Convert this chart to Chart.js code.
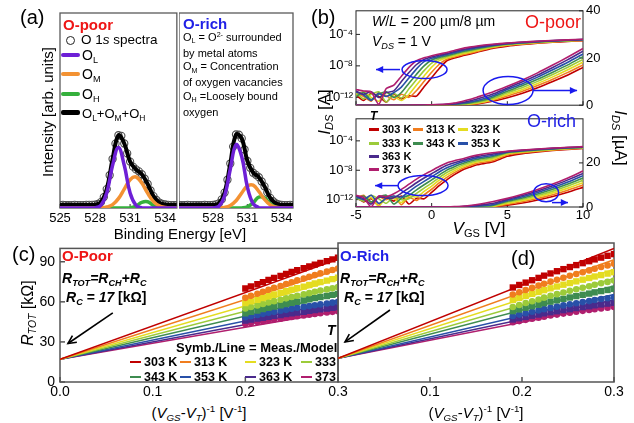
<!DOCTYPE html>
<html>
<head>
<meta charset="utf-8">
<title>O 1s XPS, transfer curves and contact resistance</title>
<script src="https://cdn.jsdelivr.net/npm/chart.js@4.4.1/dist/chart.umd.min.js"></script>
<style>
  body { margin: 0; background: #fff; }
  #fig { position: relative; width: 634px; height: 423px; overflow: hidden; background: #fff;
         font-family: "Liberation Sans", Arial, sans-serif; color: #000; }
  #fig canvas { position: absolute; }
  .t { position: absolute; white-space: nowrap; line-height: 1; z-index: 5; transform: translateY(-50%); }
  .c { transform: translate(-50%, -50%); }
  .r { transform: translate(-50%, -50%) rotate(-90deg); }
  .r90 { transform: translate(-50%, -50%) rotate(90deg); }
  .sb { font-size: 0.65em; position: relative; top: 0.3em; }
  .sp { font-size: 0.65em; position: relative; top: -0.6em; }
  .b { font-weight: bold; }
  .i { font-style: italic; }
  .sw { position: absolute; z-index: 5; }
  #clipc { position: absolute; left: 0; top: 0; width: 337px; height: 423px; overflow: hidden; z-index: 5; }
</style>
</head>
<body>
<div id="fig">
  <!-- (a) -->
  <div class="t" style="left:20px;top:17px;font-size:20px">(a)</div>
  <div class="t b" style="left:63px;top:24px;font-size:15px;color:#ee1515">O-poor</div>
  <div class="sw" style="left:66px;top:36px;width:7px;height:7px;border:1.3px solid #222;border-radius:50%"></div>
  <div class="t" style="left:81px;top:40px;font-size:13.5px">O 1<span class="i">s</span> spectra</div>
  <div class="sw" style="left:61px;top:53px;width:19px;height:4px;background:#6d1fd6;border-radius:2px"></div>
  <div class="t" style="left:82px;top:55px;font-size:14px">O<span class="sb">L</span></div>
  <div class="sw" style="left:61px;top:72px;width:19px;height:4px;background:#f39233;border-radius:2px"></div>
  <div class="t" style="left:82px;top:74px;font-size:14px">O<span class="sb">M</span></div>
  <div class="sw" style="left:61px;top:92px;width:19px;height:4px;background:#35b03c;border-radius:2px"></div>
  <div class="t" style="left:82px;top:94px;font-size:14px">O<span class="sb">H</span></div>
  <div class="sw" style="left:61px;top:110px;width:19px;height:5px;background:#000;border-radius:2px"></div>
  <div class="t" style="left:82px;top:113px;font-size:13px">O<span class="sb">L</span>+O<span class="sb">M</span>+O<span class="sb">H</span></div>
  <div class="t b" style="left:183px;top:23px;font-size:15px;color:#1f1fe6">O-rich</div>
  <div class="t" style="left:183px;top:31px;font-size:11px;line-height:13.7px;transform:none">O<span class="sb">L</span> = O<span class="sp">2-</span> surrounded<br>by metal atoms<br>O<span class="sb">M</span> = Concentration<br>of oxygen vacancies<br>O<span class="sb">H</span> =Loosely bound<br>oxygen</div>
  <div class="t r" style="left:47px;top:112px;font-size:15px">Intensity [arb. units]</div>
  <div class="t c" style="left:180px;top:233px;font-size:15px">Binding Energy [eV]</div>

  <!-- (b) -->
  <div class="t" style="left:311px;top:17px;font-size:20px">(b)</div>
  <div class="t" style="left:372px;top:21px;font-size:14px"><span class="i">W</span>/<span class="i">L</span> = 200 &micro;m/8 &micro;m</div>
  <div class="t" style="left:372px;top:41px;font-size:14px"><span class="i">V<span class="sb">DS</span></span> = 1 V</div>
  <div class="t" style="left:525px;top:22px;font-size:18px;color:#ee1515">O-poor</div>
  <div class="t" style="left:527px;top:121px;font-size:18px;color:#1f1fe6">O-rich</div>
  <div class="t b i" style="left:370px;top:116px;font-size:12px">T</div>
  <div class="t r" style="left:324px;top:112px;font-size:17px"><span class="i">I<span class="sb">DS</span></span> [A]</div>
  <div class="t r90" style="left:620px;top:138px;font-size:17px"><span class="i">I<span class="sb">DS</span></span> [&micro;A]</div>
  <div class="t c" style="left:479px;top:228px;font-size:17px"><span class="i">V</span><span class="sb">GS</span> [V]</div>

  <!-- (c) -->
  <div class="t" style="left:12px;top:254px;font-size:20px">(c)</div>
  <div class="t b" style="left:62px;top:255px;font-size:15px;color:#ee1515">O-Poor</div>
  <div class="t b" style="left:62px;top:278px;font-size:14px"><span class="i">R<span class="sb">TOT</span>=R<span class="sb">CH</span>+R<span class="sb">C</span></span></div>
  <div class="t b" style="left:66px;top:297px;font-size:14px"><span class="i">R<span class="sb">C</span> = 17</span> [k&Omega;]</div>
  <div class="t r" style="left:28px;top:313px;font-size:16px"><span class="i">R<span class="sb">TOT</span></span> [k&Omega;]</div>
  <div class="t c" style="left:199px;top:412px;font-size:15px">(<span class="i">V<span class="sb">GS</span></span>-<span class="i">V<span class="sb">T</span></span>)<span class="sp">-1</span> [V<span class="sp">-1</span>]</div>
  <div id="clipc">
    <div class="t b i" style="left:327px;top:330px;font-size:14px">T</div>
    <div class="t b" style="left:176px;top:347px;font-size:13px">Symb./Line = Meas./Model</div>
  </div>

  <!-- (d) -->
  <div class="t b" style="left:340px;top:255px;font-size:15px;color:#1f1fe6">O-Rich</div>
  <div class="t b" style="left:340px;top:278px;font-size:14px"><span class="i">R<span class="sb">TOT</span>=R<span class="sb">CH</span>+R<span class="sb">C</span></span></div>
  <div class="t b" style="left:344px;top:297px;font-size:14px"><span class="i">R<span class="sb">C</span> = 17</span> [k&Omega;]</div>
  <div class="t" style="left:511px;top:258px;font-size:20px">(d)</div>
  <div class="t c" style="left:476px;top:412px;font-size:15px">(<span class="i">V<span class="sb">GS</span></span>-<span class="i">V<span class="sb">T</span></span>)<span class="sp">-1</span> [V<span class="sp">-1</span>]</div>
</div>

<script>
// ---- (a) O 1s spectra, deconvoluted peaks (arb. units) ----
var bindE = [525, 525.5, 526, 526.5, 527, 527.5, 528, 528.5, 529, 529.5, 530, 530.5, 531, 531.5, 532, 532.5, 533, 533.5, 534, 534.5, 535];
var specE = [525, 525.25, 525.5, 525.75, 526, 526.25, 526.5, 526.75, 527, 527.25, 527.5, 527.75, 528, 528.25, 528.5, 528.75,
             529, 529.25, 529.5, 529.75, 530, 530.25, 530.5, 530.75, 531, 531.25, 531.5, 531.75, 532, 532.25, 532.5, 532.75,
             533, 533.25, 533.5, 533.75, 534, 534.25, 534.5, 534.75, 535];
var eTicksPoor = [525, 528, 531, 534];
var eTicksRich = [528, 531, 534];
var poorOL = [0, 0, 0, 0, 0, 0, 0.1, 1.4, 7.7, 21.9, 31, 21.9, 7.7, 1.4, 0.1, 0, 0, 0, 0, 0, 0];
var poorOM = [0, 0, 0, 0, 0, 0, 0, 0.1, 0.5, 1.7, 4.8, 9.7, 14.5, 15.9, 12.8, 7.6, 3.3, 1.1, 0.3, 0, 0];
var poorOH = [0, 0, 0, 0, 0, 0, 0, 0, 0, 0, 0, 0, 0.1, 1.0, 2.9, 3.2, 1.3, 0.2, 0, 0, 0];
var poorSum = [1.5, 1.5, 1.5, 1.5, 1.5, 1.6, 1.7, 3.0, 9.7, 25.1, 37.3, 33.1, 23.8, 19.8, 17.3, 12.3, 6.1, 2.8, 1.8, 1.5, 1.5];
var poorSpec = [1.5, 1.6, 1.5, 1.4, 1.5, 1.6, 1.5, 1.5, 1.5, 1.6, 1.6, 1.6, 1.7, 2.1, 3.0, 5.6, 9.7, 16.8, 25.1, 33.0, 37.3,
                37.0, 33.1, 28.0, 23.8, 21.2, 19.8, 18.8, 17.3, 15.0, 12.3, 9.0, 6.1, 4.1, 2.8, 2.1, 1.8, 1.6, 1.5, 1.5, 1.5];
var richOL = [0, 0, 0, 0, 0, 0, 0.1, 0.9, 6.1, 20, 32.5, 26.4, 10.7, 2.2, 0.2, 0, 0, 0, 0, 0, 0];
var richOM = [0, 0, 0, 0, 0, 0, 0, 0, 0.3, 1.3, 3.7, 7.7, 11.3, 11.7, 8.5, 4.4, 1.6, 0.4, 0.1, 0, 0];
var richOH = [0, 0, 0, 0, 0, 0, 0, 0, 0, 0, 0, 0.05, 0.6, 2.7, 5.6, 5.2, 2.1, 0.4, 0, 0, 0];
var richSum = [1.5, 1.5, 1.5, 1.5, 1.5, 1.5, 1.6, 2.4, 7.9, 22.8, 37.7, 35.7, 24.1, 18.1, 15.8, 11.1, 5.2, 2.3, 1.6, 1.5, 1.5];
var richSpec = [1.5, 1.4, 1.5, 1.6, 1.5, 1.5, 1.5, 1.4, 1.5, 1.6, 1.5, 1.5, 1.6, 1.9, 2.4, 4.4, 7.9, 14.5, 22.8, 31.5, 37.7,
                37.6, 35.7, 30.0, 24.1, 20.6, 18.1, 17.0, 15.8, 13.6, 11.1, 8.0, 5.2, 3.5, 2.3, 1.8, 1.6, 1.5, 1.5, 1.6, 1.5];

// ---- (b) transfer curves, I_DS in A ----
var temps = ['303 K', '313 K', '323 K', '333 K', '343 K', '353 K', '363 K', '373 K'];
var vgs = [-5, -4.5, -4, -3.5, -3, -2.5, -2, -1.5, -1, -0.5, 0, 0.5, 1, 1.5, 2, 2.5, 3, 4, 5, 6, 7, 8, 9, 10];
var vTicks = [-5, 0, 5, 10];
var logTicks = [1e-12, 1e-8, 1e-4];
var logLabels = ['10\u207B\u00B9\u00B2', '10\u207B\u2078', '10\u207B\u2074'];
var linTicksTop = [0, 20, 40];
var linTicksBottom = [0, 20];
var poor303 = [2e-12, 4e-13, 3.2e-12, 1.3e-12, 2.5e-13, 2.5e-12, 6.3e-13, 1.6e-12, 1.4e-12, 2.2e-11, 3.2e-10, 4.7e-9, 4.5e-8, 1e-7, 1.8e-7, 3e-7, 5.3e-7, 1.65e-6, 3.2e-6, 5.1e-6, 7.4e-6, 1e-5, 1.28e-5, 1.6e-5];
var poor313 = [3.2e-12, 1.3e-12, 3.2e-13, 4e-12, 1.6e-12, 5e-13, 2.5e-12, 1e-12, 7.4e-12, 1.1e-10, 1.55e-9, 1.6e-8, 7e-8, 1.37e-7, 2.5e-7, 4e-7, 6.9e-7, 1.96e-6, 3.89e-6, 5.9e-6, 8.3e-6, 1.1e-5, 1.39e-5, 1.71e-5];
var poor323 = [1.6e-12, 5e-12, 1e-12, 3.2e-13, 4e-12, 1.3e-12, 4e-13, 2.3e-12, 3.6e-11, 5.1e-10, 6.8e-9, 4.6e-8, 1e-7, 1.87e-7, 3.4e-7, 5.4e-7, 9e-7, 2.33e-6, 4.57e-6, 6.7e-6, 9.2e-6, 1.2e-5, 1.5e-5, 1.83e-5];
var poor333 = [4e-12, 6.3e-13, 2.5e-12, 5e-12, 2.5e-13, 3.2e-12, 8e-13, 1.2e-11, 1.8e-10, 2.5e-9, 2.3e-8, 7.9e-8, 1.4e-7, 2.6e-7, 4.6e-7, 7.3e-7, 1.18e-6, 2.77e-6, 5.26e-6, 7.5e-6, 1.01e-5, 1.3e-5, 1.61e-5, 1.94e-5];
var poor343 = [1.3e-12, 4e-12, 5e-13, 2.5e-12, 5e-12, 1e-12, 4.1e-12, 6.2e-11, 8.7e-10, 1e-8, 5.5e-8, 1.2e-7, 2e-7, 3.5e-7, 6.3e-7, 9.9e-7, 1.53e-6, 3.29e-6, 5.94e-6, 8.3e-6, 1.1e-5, 1.4e-5, 1.71e-5, 2.06e-5];
var poor353 = [5e-12, 2e-12, 4e-13, 3.2e-12, 1.3e-12, 4e-12, 2e-11, 2.9e-10, 4.1e-9, 3.4e-8, 9.3e-8, 1.7e-7, 2.8e-7, 4.8e-7, 8.6e-7, 1.33e-6, 2e-6, 3.9e-6, 6.63e-6, 9.1e-6, 1.19e-5, 1.5e-5, 1.82e-5, 2.17e-5];
var poor363 = [6.3e-12, 2.5e-12, 5e-12, 1e-12, 4e-12, 6.6e-12, 1e-10, 1.4e-9, 1.5e-8, 6.5e-8, 1.35e-7, 2.4e-7, 3.6e-7, 6.6e-7, 1.17e-6, 1.78e-6, 2.6e-6, 4.64e-6, 7.31e-6, 9.9e-6, 1.28e-5, 1.6e-5, 1.93e-5, 2.29e-5];
var poor373 = [1e-11, 6.3e-12, 5e-12, 1.3e-13, 1.3e-11, 3.5e-11, 4.9e-10, 6.5e-9, 4.5e-8, 1.07e-7, 1.9e-7, 3.2e-7, 5e-7, 9e-7, 1.6e-6, 2.4e-6, 3.4e-6, 5.5e-6, 8e-6, 1.07e-5, 1.37e-5, 1.7e-5, 2.04e-5, 2.4e-5];
var rich303 = [2.5e-12, 5e-13, 1.3e-12, 1.6e-13, 2e-12, 6.3e-13, 3.2e-12, 2.5e-13, 1.6e-12, 1.3e-12, 1e-11, 7.9e-11, 5e-10, 2.5e-9, 1e-8, 2.5e-8, 5.6e-8, 1.3e-7, 8e-7, 1.85e-6, 3.2e-6, 4.8e-6, 6.7e-6, 8.9e-6];
var rich313 = [1.6e-12, 4e-12, 4e-13, 2.5e-12, 1e-12, 3.2e-12, 2e-13, 2e-12, 8e-13, 4.6e-12, 2.6e-11, 1.9e-10, 1.07e-9, 4.7e-9, 1.66e-8, 4.1e-8, 8.7e-8, 1.95e-7, 1.24e-6, 2.41e-6, 3.88e-6, 5.6e-6, 7.63e-6, 9.96e-6];
var rich323 = [3.2e-12, 8e-13, 2e-12, 1.3e-13, 2.5e-12, 1.3e-12, 4e-13, 3.2e-12, 2.3e-12, 1.3e-11, 6.9e-11, 4.4e-10, 2.3e-9, 8.7e-9, 2.75e-8, 6.5e-8, 1.32e-7, 2.95e-7, 1.69e-6, 2.97e-6, 4.56e-6, 6.4e-6, 8.56e-6, 1.1e-5];
var rich333 = [2e-12, 6.3e-13, 4e-12, 1.3e-12, 3.2e-13, 2.5e-12, 1e-12, 1.3e-12, 7.2e-12, 3.7e-11, 1.8e-10, 1.02e-9, 4.9e-9, 1.6e-8, 4.6e-8, 1.05e-7, 2e-7, 4.5e-7, 2.13e-6, 3.53e-6, 5.24e-6, 7.2e-6, 9.49e-6, 1.21e-5];
var rich343 = [1.3e-12, 3.2e-12, 5e-13, 2e-12, 4e-12, 2.5e-13, 1.6e-12, 4e-12, 2.2e-11, 1.07e-10, 4.8e-10, 2.4e-9, 1.05e-8, 3e-8, 7.6e-8, 1.66e-7, 3.2e-7, 6.8e-7, 2.57e-6, 4.1e-6, 5.92e-6, 8e-6, 1.04e-5, 1.31e-5];
var rich353 = [2.5e-12, 1e-12, 4e-12, 3.2e-13, 1.6e-12, 3.2e-12, 2.3e-12, 1.26e-11, 6.8e-11, 3.1e-10, 1.3e-9, 5.8e-9, 2.2e-8, 5.8e-8, 1.3e-7, 2.7e-7, 4.8e-7, 1.02e-6, 3.01e-6, 4.66e-6, 6.6e-6, 8.8e-6, 1.13e-5, 1.42e-5];
var rich363 = [3.2e-12, 1.3e-12, 2.5e-13, 2.5e-12, 1.6e-12, 1.8e-12, 7.6e-12, 4e-11, 2e-10, 8.7e-10, 3.4e-9, 1.35e-8, 4.7e-8, 1.07e-7, 2.1e-7, 4.4e-7, 7.4e-7, 1.55e-6, 3.46e-6, 5.22e-6, 7.28e-6, 9.6e-6, 1.23e-5, 1.52e-5];
var rich373 = [4e-12, 2e-12, 1e-13, 3.2e-12, 2.5e-12, 6.3e-12, 2.5e-11, 1.26e-10, 6.3e-10, 2.5e-9, 8.9e-9, 3.2e-8, 1e-7, 2e-7, 3.5e-7, 6.9e-7, 1.15e-6, 2.35e-6, 3.9e-6, 5.78e-6, 7.96e-6, 1.04e-5, 1.32e-5, 1.63e-5];

// ---- (c)/(d) R_TOT vs (V_GS-V_T)^-1, kOhm ----
var rc = 17;
var rTicks = [0, 30, 60, 90];
var cXTicks = [0, 0.1, 0.2, 0.3];
var dXTicks = [0.1, 0.2, 0.3];
var cInvV = [0.2, 0.206, 0.213, 0.219, 0.225, 0.231, 0.238, 0.244, 0.25, 0.256, 0.263, 0.269, 0.275, 0.281, 0.288, 0.294, 0.3];
var dInvV = [0.19, 0.197, 0.204, 0.211, 0.218, 0.224, 0.231, 0.238, 0.245, 0.252, 0.259, 0.266, 0.273, 0.279, 0.286, 0.293, 0.3];
var cMeas303 = [70, 71.6, 73.2, 74.8, 76.4, 77.9, 79.4, 80.9, 82.3, 83.7, 85.1, 86.5, 87.9, 89.2, 90.5, 91.8, 93];
var cMeas313 = [63, 64.5, 66.1, 67.6, 69, 70.5, 71.9, 73.3, 74.7, 76.1, 77.4, 78.7, 80, 81.3, 82.6, 83.8, 85];
var cMeas323 = [59, 60.3, 61.6, 62.9, 64.2, 65.5, 66.7, 67.9, 69.1, 70.3, 71.4, 72.6, 73.7, 74.8, 75.9, 77, 78];
var cMeas333 = [55, 56.1, 57.3, 58.4, 59.5, 60.5, 61.6, 62.6, 63.6, 64.6, 65.6, 66.5, 67.5, 68.4, 69.3, 70.1, 71];
var cMeas343 = [51.5, 52.5, 53.5, 54.5, 55.5, 56.5, 57.4, 58.3, 59.3, 60.1, 61, 61.9, 62.8, 63.6, 64.4, 65.2, 66];
var cMeas353 = [48.5, 49.3, 50.2, 51, 51.8, 52.5, 53.3, 54, 54.8, 55.5, 56.2, 56.8, 57.5, 58.1, 58.8, 59.4, 60];
var cMeas363 = [46, 46.7, 47.4, 48.1, 48.8, 49.5, 50.1, 50.8, 51.4, 52, 52.6, 53.2, 53.8, 54.4, 54.9, 55.5, 56];
var cMeas373 = [43.5, 44.2, 44.9, 45.5, 46.2, 46.8, 47.4, 48.1, 48.7, 49.2, 49.8, 50.4, 50.9, 51.5, 52, 52.5, 53];
var cModelEnd = [92, 84, 77, 71, 65.5, 60, 56, 53];
var dMeas303 = [68, 69.8, 71.5, 73.2, 74.9, 76.5, 78.1, 79.7, 81.2, 82.7, 84.1, 85.5, 86.9, 88.2, 89.5, 90.8, 92];
var dMeas313 = [63, 64.6, 66.2, 67.7, 69.3, 70.7, 72.2, 73.6, 75, 76.4, 77.7, 79, 80.3, 81.5, 82.7, 83.9, 85];
var dMeas323 = [59, 60.5, 61.9, 63.4, 64.8, 66.1, 67.4, 68.7, 70, 71.2, 72.4, 73.6, 74.8, 75.9, 76.9, 78, 79];
var dMeas333 = [54, 55.4, 56.8, 58.1, 59.4, 60.7, 62, 63.2, 64.4, 65.6, 66.7, 67.8, 68.9, 70, 71, 72, 73];
var dMeas343 = [51, 52.2, 53.4, 54.5, 55.6, 56.7, 57.8, 58.8, 59.8, 60.8, 61.8, 62.7, 63.6, 64.5, 65.4, 66.2, 67];
var dMeas353 = [47.5, 48.5, 49.5, 50.5, 51.5, 52.4, 53.3, 54.2, 55.1, 55.9, 56.7, 57.5, 58.2, 59, 59.7, 60.3, 61];
var dMeas363 = [45, 45.9, 46.8, 47.7, 48.5, 49.4, 50.2, 50.9, 51.7, 52.4, 53.2, 53.9, 54.5, 55.2, 55.8, 56.4, 57];
var dMeas373 = [43, 43.8, 44.7, 45.5, 46.3, 47, 47.8, 48.5, 49.2, 49.9, 50.5, 51.2, 51.8, 52.4, 52.9, 53.5, 54];
var dModelEnd = [96, 88, 81, 74.5, 69, 63, 59, 56];

var tColors = ['#c00000', '#f07d1e', '#e4dc20', '#9ccb3a', '#3e8c50', '#2850a8', '#4a2a8c', '#b01e6e'];
var fig = document.getElementById('fig');

Chart.defaults.font.family = '"Liberation Sans", Arial, sans-serif';
Chart.defaults.color = '#000';

function pts(xs, ys, k) {
    return xs.map(function(x, i){ return {x: x, y: ys[i] * (k || 1)}; });
}
function fixW(px) { return function(s){ s.width = px; }; }
function fixH(px) { return function(s){ s.height = px; }; }
function setTicks(list) { return function(s){ s.ticks = list.map(function(v){ return {value: v}; }); }; }

function makeCanvas(left, top, w, h) {
    var c = document.createElement('canvas');
    c.width = w; c.height = h;
    c.style.left = left + 'px'; c.style.top = top + 'px';
    c.style.width = w + 'px'; c.style.height = h + 'px';
    fig.appendChild(c);
    return c;
}
function addText(parent, left, cy, html, cls, size) {
    var d = document.createElement('div');
    d.className = 't ' + (cls || '');
    d.style.left = left + 'px'; d.style.top = cy + 'px'; d.style.fontSize = size + 'px';
    d.innerHTML = html;
    parent.appendChild(d);
}
function addSwatch(parent, left, top, w, h, col) {
    var d = document.createElement('div');
    d.className = 'sw';
    d.style.cssText = 'left:' + left + 'px;top:' + top + 'px;width:' + w + 'px;height:' + h + 'px;background:' + col;
    parent.appendChild(d);
}

// frame round the plot area plus inward tick marks
var framePlugin = {
    id: 'frame',
    beforeDatasetsDraw: function(chart, args, opt) {
        var a = chart.chartArea, ctx = chart.ctx, len = opt.tick || 4;
        ctx.save();
        ctx.strokeStyle = opt.color; ctx.lineWidth = opt.width;
        ctx.strokeRect(a.left, a.top, a.right - a.left, a.bottom - a.top);
        (opt.sides || []).forEach(function(sd){
            var s = chart.scales[sd.id];
            s.ticks.forEach(function(t){
                var p = s.getPixelForValue(t.value);
                ctx.beginPath();
                if (sd.pos == 'bottom') { ctx.moveTo(p, a.bottom); ctx.lineTo(p, a.bottom - len); }
                if (sd.pos == 'left') { ctx.moveTo(a.left, p); ctx.lineTo(a.left + len, p); }
                if (sd.pos == 'right') { ctx.moveTo(a.right, p); ctx.lineTo(a.right - len, p); }
                ctx.stroke();
            });
        });
        ctx.restore();
    }
};

// ellipses and arrows placed in data coordinates
var marksPlugin = {
    id: 'marks',
    afterDatasetsDraw: function(chart, args, opt) {
        var ctx = chart.ctx, xs = chart.scales.x;
        ctx.save();
        ctx.strokeStyle = opt.color; ctx.fillStyle = opt.color; ctx.lineWidth = opt.width;
        (opt.items || []).forEach(function(m){
            var ys = chart.scales[m.axis || 'y'];
            if (m.type == 'ellipse') {
                ctx.beginPath();
                ctx.ellipse(xs.getPixelForValue(m.x), ys.getPixelForValue(m.y), m.rx, m.ry, 0, 0, 2 * Math.PI);
                ctx.stroke();
                return;
            }
            var x1 = xs.getPixelForValue(m.x1), y1 = ys.getPixelForValue(m.y1);
            var x2 = xs.getPixelForValue(m.x2), y2 = ys.getPixelForValue(m.y2);
            var ang = Math.atan2(y2 - y1, x2 - x1), h = opt.head;
            ctx.beginPath(); ctx.moveTo(x1, y1); ctx.lineTo(x2, y2); ctx.stroke();
            ctx.beginPath();
            ctx.moveTo(x2 - h * Math.cos(ang - 0.45), y2 - h * Math.sin(ang - 0.45));
            ctx.lineTo(x2, y2);
            ctx.lineTo(x2 - h * Math.cos(ang + 0.45), y2 - h * Math.sin(ang + 0.45));
            if (opt.open) ctx.stroke(); else { ctx.closePath(); ctx.fill(); }
        });
        ctx.restore();
    }
};

function baseOpts(pad) {
    return {
        responsive: false, animation: false, events: [],
        layout: { autoPadding: false, padding: pad },
        plugins: { legend: {display: false}, tooltip: {enabled: false} },
        scales: {}
    };
}
var noGrid = {display: false, drawTicks: false};
var noBorder = {display: false};

// ---- (a) ----
function xpsChart(left, w, padR, yW, ticks, ol, om, oh, sum, spec) {
    var o = baseOpts({top: 13, right: padR, left: 0, bottom: 0});
    o.scales.x = { type: 'linear', min: 525, max: 535, afterBuildTicks: setTicks(ticks), afterFit: fixH(24),
        grid: noGrid, border: noBorder,
        ticks: {font: {size: 13}, padding: 3, maxRotation: 0, autoSkip: false, callback: function(v){ return String(v); }} };
    o.scales.y = { type: 'linear', min: 0, max: 100, display: yW > 0, afterFit: fixW(yW),
        grid: noGrid, border: noBorder, ticks: {display: false} };
    o.plugins.frame = {color: '#5a5a5a', width: 1.3, tick: 4, sides: [{id: 'x', pos: 'bottom'}]};
    function line(ys, col, bw, ord) {
        return {data: pts(bindE, ys), showLine: true, borderColor: col, borderWidth: bw, pointRadius: 0,
                tension: 0.4, order: ord};
    }
    new Chart(makeCanvas(left, 0, w, 232), {
        type: 'scatter',
        data: { datasets: [
            line(ol, '#6d1fd6', 3.5, 1),
            line(om, '#f39233', 3.5, 2),
            line(oh, '#35b03c', 3.5, 3),
            line(sum, '#000', 4, 4),
            {data: pts(specE, spec), showLine: false, pointRadius: 3.6, pointBorderWidth: 1.1, pointBorderColor: '#4a4a4a',
             pointBackgroundColor: 'rgba(255,255,255,0)', order: 5}
        ]},
        options: o,
        plugins: [framePlugin]
    });
}
xpsChart(0, 179, 0, 60, eTicksPoor, poorOL, poorOM, poorOH, poorSum, poorSpec);
xpsChart(179, 125, 11, 0, eTicksRich, richOL, richOM, richOH, richSum, richSpec);

// ---- (b) ----
function transferChart(top, h, padTop, xH, showX, curves, linTicks, items) {
    var o = baseOpts({top: padTop, right: 0, left: 0, bottom: 0});
    o.scales.x = { type: 'linear', min: -5, max: 10, afterBuildTicks: setTicks(vTicks), afterFit: fixH(xH),
        grid: noGrid, border: noBorder,
        ticks: {display: showX, font: {size: 13}, padding: 1, maxRotation: 0, autoSkip: false} };
    o.scales.yL = { type: 'logarithmic', position: 'left', min: 1e-13, max: 1e-1,
        afterBuildTicks: setTicks(logTicks), afterFit: fixW(54), grid: noGrid, border: noBorder,
        ticks: {font: {size: 13}, padding: 3, callback: function(v, i){ return logLabels[i]; }} };
    o.scales.yR = { type: 'linear', position: 'right', min: 0, max: 40,
        afterBuildTicks: setTicks(linTicks), afterFit: fixW(51), grid: noGrid, border: noBorder,
        ticks: {font: {size: 13}, padding: 3} };
    o.plugins.frame = {color: '#222', width: 1, tick: 4,
        sides: [{id: 'x', pos: 'bottom'}, {id: 'yL', pos: 'left'}, {id: 'yR', pos: 'right'}]};
    o.plugins.marks = {color: '#1a1aee', width: 1.5, head: 8, open: false, items: items};
    var ds = [];
    curves.forEach(function(arr, k){
        ds.push({data: pts(vgs, arr), yAxisID: 'yL', showLine: true, borderColor: tColors[k], borderWidth: 1.6,
                 pointRadius: 0, tension: 0.2, order: 7 - k});
        ds.push({data: pts(vgs, arr, 1e6), yAxisID: 'yR', showLine: true, borderColor: tColors[k], borderWidth: 1.6,
                 pointRadius: 0, tension: 0.2, order: 7 - k});
    });
    new Chart(makeCanvas(302, top, 332, h), {
        type: 'scatter', data: {datasets: ds}, options: o, plugins: [framePlugin, marksPlugin]
    });
}
transferChart(0, 116, 10, 8, false,
    [poor303, poor313, poor323, poor333, poor343, poor353, poor363, poor373], linTicksTop,
    [{type: 'ellipse', x: -0.47, y: 3.4e-9, axis: 'yL', rx: 22.5, ry: 9},
     {type: 'arrow', x1: -2.09, y1: 3.4e-9, x2: -3.68, y2: 3.4e-9, axis: 'yL'},
     {type: 'ellipse', x: 5.05, y: 6.2, axis: 'yR', rx: 25, ry: 14},
     {type: 'arrow', x1: 6.7, y1: 6.2, x2: 9.61, y2: 6.2, axis: 'yR'}]);
transferChart(108, 118, 0, 19, true,
    [rich303, rich313, rich323, rich333, rich343, rich353, rich363, rich373], linTicksBottom,
    [{type: 'ellipse', x: -0.57, y: 8.1e-11, axis: 'yL', rx: 25, ry: 10},
     {type: 'arrow', x1: -2.22, y1: 8.1e-11, x2: -3.74, y2: 8.1e-11, axis: 'yL'},
     {type: 'ellipse', x: 7.56, y: 6.5, axis: 'yR', rx: 12.5, ry: 9},
     {type: 'arrow', x1: 7.95, y1: 2.0, x2: 9.01, y2: 2.0, axis: 'yR'}]);

var bLegCol = [369, 413, 458], bLegRow = [129, 143, 156, 169];
var bLegSlot = [[0, 0], [1, 0], [2, 0], [0, 1], [1, 1], [2, 1], [0, 2], [0, 3]];
temps.forEach(function(t, k){
    var x = bLegCol[bLegSlot[k][0]], y = bLegRow[bLegSlot[k][1]];
    addSwatch(fig, x, y - 1, 10, 2.5, tColors[k]);
    addText(fig, x + 13, y, t, 'b', 11);
});

// ---- (c) and (d) ----
function resChart(left, w, padL, padR, showY, xTicks, invV, meas, ends, items) {
    var o = baseOpts({top: 8, right: padR, left: padL, bottom: 0});
    o.scales.x = { type: 'linear', min: 0, max: 0.3, afterBuildTicks: setTicks(xTicks), afterFit: fixH(18),
        grid: noGrid, border: noBorder,
        ticks: {font: {size: 14}, padding: 2, maxRotation: 0, autoSkip: false, callback: function(v){ return v.toFixed(1); }} };
    o.scales.y = { type: 'linear', min: 0, max: 100, display: showY, afterBuildTicks: setTicks(rTicks),
        afterFit: fixW(showY ? 60 : 0), grid: noGrid, border: noBorder,
        ticks: {font: {size: 14}, padding: 5} };
    var sides = [{id: 'x', pos: 'bottom'}];
    if (showY) sides.push({id: 'y', pos: 'left'});
    o.plugins.frame = {color: '#555', width: 1.5, tick: 5, sides: sides};
    o.plugins.marks = {color: '#000', width: 1.6, head: 9, open: true, items: items};
    var ds = [];
    meas.forEach(function(m, k){
        ds.push({data: [{x: 0, y: rc}, {x: 0.3, y: ends[k]}], showLine: true, borderColor: tColors[k],
                 borderWidth: 1.5, pointRadius: 0, order: 20 + k});
        ds.push({data: pts(invV, m), showLine: false, pointStyle: k % 2 ? 'circle' : 'rect',
                 pointRadius: k % 2 ? 3.3 : 4.5, pointBackgroundColor: tColors[k], pointBorderWidth: 0, order: k});
    });
    new Chart(makeCanvas(left, 235, w, 165), {
        type: 'scatter', data: {datasets: ds}, options: o, plugins: [framePlugin, marksPlugin]
    });
}
resChart(0, 362, 0, 24, true, cXTicks, cInvV,
    [cMeas303, cMeas313, cMeas323, cMeas333, cMeas343, cMeas353, cMeas363, cMeas373], cModelEnd,
    [{type: 'arrow', x1: 0.057, y1: 51.8, x2: 0.0086, y2: 28.8}]);
resChart(330, 304, 8, 20, false, dXTicks, dInvV,
    [dMeas303, dMeas313, dMeas323, dMeas333, dMeas343, dMeas353, dMeas363, dMeas373], dModelEnd,
    [{type: 'arrow', x1: 0.0565, y1: 51.8, x2: 0.0076, y2: 28.8}]);

var clipc = document.getElementById('clipc');
var cLegCol = [130, 180, 245, 301], cLegRow = [362, 377];
temps.forEach(function(t, k){
    var x = cLegCol[k % 4], y = cLegRow[Math.floor(k / 4)];
    addSwatch(clipc, x, y - 1, 11, 2, tColors[k]);
    addText(clipc, x + 14, y, t, 'b', 12.5);
});
</script>
</body>
</html>
